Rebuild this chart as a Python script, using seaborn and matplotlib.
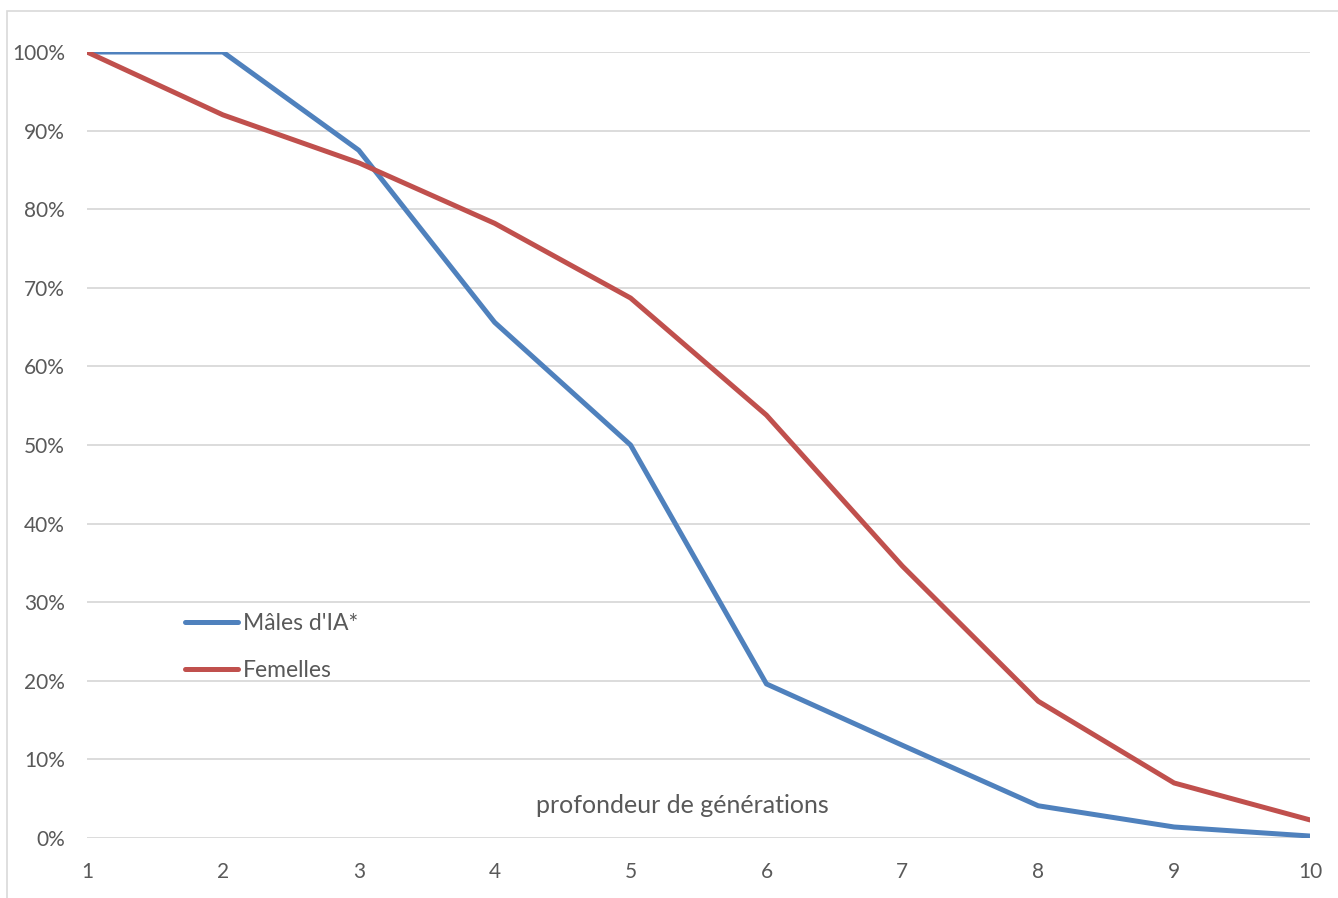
import pandas as pd
import matplotlib.pyplot as plt
import seaborn as sns
from matplotlib.patches import Rectangle
from matplotlib.ticker import PercentFormatter

# Data
generations = [1, 2, 3, 4, 5, 6, 7, 8, 9, 10]
males_ia = [100, 100, 87.5, 65.6, 50.0, 19.6, 11.8, 4.1, 1.4, 0.25]
femelles = [100, 92.0, 85.9, 78.2, 68.7, 53.8, 34.6, 17.4, 7.0, 2.3]

df = pd.DataFrame({
    'gen': generations * 2,
    'pct': [v / 100 for v in males_ia + femelles],
    'serie': ["Mâles d'IA*"] * 10 + ['Femelles'] * 10,
})

sns.set_style('white')
plt.rcParams['font.family'] = ['Lato', 'DejaVu Sans']

fig = plt.figure(figsize=(13.38, 8.98), dpi=100)
ax = fig.add_axes([87 / 1338, 1 - 838 / 898, 1223 / 1338, 786 / 898])

sns.lineplot(data=df, x='gen', y='pct', hue='serie', ax=ax,
             palette={"Mâles d'IA*": '#4F81BD', 'Femelles': '#C0504D'},
             linewidth=3.6, solid_capstyle='round', legend=False)

ax.set_xlim(1, 10)
ax.set_ylim(0, 1)
ax.set_xticks(generations)
ax.set_yticks([i / 10 for i in range(11)])
ax.yaxis.set_major_formatter(PercentFormatter(1.0, decimals=0))
ax.grid(axis='y', color='#D9D9D9', linewidth=1.3)
ax.set_axisbelow(True)
for s in ax.spines.values():
    s.set_visible(False)
ax.tick_params(length=0, labelsize=15, labelcolor='#595959')
ax.tick_params(axis='x', pad=17)
ax.tick_params(axis='y', pad=16)
ax.set_xlabel('')
ax.set_ylabel('')

# axis title sits inside the plot area
ax.text(0.487, 0.041, 'profondeur de générations', transform=ax.transAxes,
        ha='center', va='center', fontsize=18, color='#595959')

# legend
handles = [plt.Line2D([], [], color='#4F81BD', lw=3.6, solid_capstyle='round'),
           plt.Line2D([], [], color='#C0504D', lw=3.6, solid_capstyle='round')]
leg = ax.legend(handles, ["Mâles d'IA*", 'Femelles'], loc='upper left',
                bbox_to_anchor=(0.080, 0.286), frameon=False, fontsize=16.5,
                handlelength=2.3, handletextpad=0.25, labelspacing=1.12,
                borderpad=0, borderaxespad=0, labelcolor='#595959')

# chart border (top and left visible)
fig.patches.append(Rectangle((7 / 1338, -0.1), 1.2, 1.1 - 11 / 898,
                             transform=fig.transFigure, fill=False,
                             edgecolor='#D9D9D9', linewidth=1.2))

fig.savefig('out.png', dpi=100)
